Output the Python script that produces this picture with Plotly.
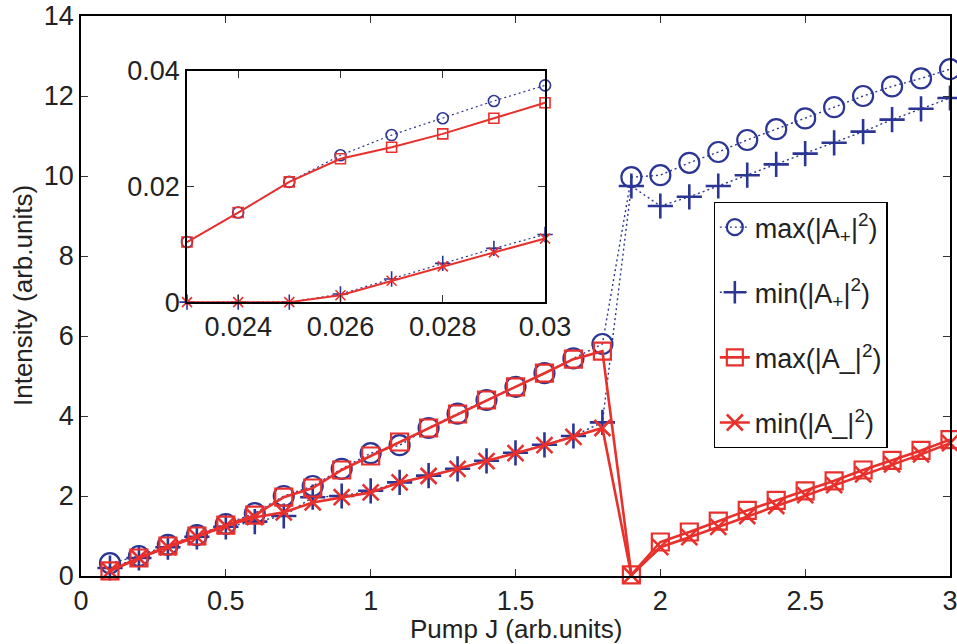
import plotly.graph_objects as go

# Pump values (arb. units)
pump = [0.1, 0.2, 0.3, 0.4, 0.5, 0.6, 0.7, 0.8, 0.9, 1.0,
        1.1, 1.2, 1.3, 1.4, 1.5, 1.6, 1.7, 1.8, 1.9, 2.0,
        2.1, 2.2, 2.3, 2.4, 2.5, 2.6, 2.7, 2.8, 2.9, 3.0]

max_Ap = [0.32, 0.50, 0.78, 1.02, 1.30, 1.57, 2.00, 2.25, 2.68, 3.07,
          3.27, 3.70, 4.06, 4.40, 4.73, 5.07, 5.44, 5.80, 9.97, 10.02,
          10.33, 10.60, 10.90, 11.17, 11.44, 11.72, 12.00, 12.24, 12.44, 12.67]
min_Ap = [0.20, 0.45, 0.72, 0.98, 1.23, 1.36, 1.50, 1.97, 2.00, 2.13,
          2.34, 2.51, 2.68, 2.88, 3.08, 3.28, 3.50, 3.84, 9.75, 9.25,
          9.48, 9.75, 10.02, 10.29, 10.56, 10.83, 11.11, 11.41, 11.68, 11.95]
max_Am = [0.13, 0.45, 0.75, 1.00, 1.27, 1.52, 1.97, 2.20, 2.65, 3.00,
          3.35, 3.70, 4.05, 4.40, 4.73, 5.07, 5.42, 5.62, 0.03, 0.85,
          1.10, 1.37, 1.64, 1.89, 2.13, 2.38, 2.65, 2.89, 3.14, 3.41]
min_Am = [0.13, 0.45, 0.72, 0.98, 1.25, 1.47, 1.59, 1.84, 1.97, 2.09,
          2.34, 2.50, 2.68, 2.87, 3.07, 3.27, 3.48, 3.70, 0.02, 0.72,
          0.97, 1.23, 1.50, 1.75, 2.02, 2.27, 2.54, 2.79, 3.04, 3.32]

# Low-pump detail
pump_in = [0.023, 0.024, 0.025, 0.026, 0.027, 0.028, 0.029, 0.030]
max_Ap_in = [0.0104, 0.0155, 0.0208, 0.0254, 0.0289, 0.0318, 0.0348, 0.0375]
min_Ap_in = [0.0, 0.0, 0.0, 0.0014, 0.0040, 0.0067, 0.0093, 0.0117]
max_Am_in = [0.0104, 0.0155, 0.0208, 0.0248, 0.0268, 0.0291, 0.0318, 0.0345]
min_Am_in = [0.0, 0.0, 0.0, 0.0012, 0.0037, 0.0062, 0.0086, 0.0110]

main_xticks = [0, 0.5, 1, 1.5, 2, 2.5, 3]
main_xlabels = ["0", "0.5", "1", "1.5", "2", "2.5", "3"]
main_yticks = [0, 2, 4, 6, 8, 10, 12, 14]
inset_xticks = [0.024, 0.026, 0.028, 0.03]
inset_xlabels = ["0.024", "0.026", "0.028", "0.03"]
inset_yticks = [0, 0.02, 0.04]
inset_ylabels = ["0", "0.02", "0.04"]

names = ["max(|A<sub>+</sub>|<sup>2</sup>)", "min(|A<sub>+</sub>|<sup>2</sup>)",
         "max(|A_|<sup>2</sup>)", "min(|A_|<sup>2</sup>)"]

BLUE = "#2b3593"
RED = "#e8302c"
FONT = "Liberation Sans, Arial, Helvetica, sans-serif"
FS = 27

styles = [
    dict(color=BLUE, symbol="circle-open", dash="2px,3px", width=1.4, msize=20, mline=2.2),
    dict(color=BLUE, symbol="cross-thin-open", dash="2px,3px", width=1.4, msize=18, mline=2.6),
    dict(color=RED, symbol="square-open", dash="solid", width=2.6, msize=17, mline=2.2),
    dict(color=RED, symbol="x-thin-open", dash="solid", width=2.6, msize=16, mline=2.6),
]
inset_sizes = [11, 11, 10, 10]

fig = go.Figure()

for i, ys in enumerate([max_Ap, min_Ap, max_Am, min_Am]):
    s = styles[i]
    fig.add_trace(go.Scatter(
        x=pump, y=ys, mode="lines+markers", name=names[i],
        legendgroup=f"g{i}",
        line=dict(color=s["color"], dash=s["dash"], width=s["width"]),
        marker=dict(symbol=s["symbol"], size=s["msize"], color=s["color"],
                    line=dict(color=s["color"], width=s["mline"])),
        cliponaxis=False, xaxis="x", yaxis="y",
    ))

for i, ys in enumerate([max_Ap_in, min_Ap_in, max_Am_in, min_Am_in]):
    s = styles[i]
    fig.add_trace(go.Scatter(
        x=pump_in, y=ys, mode="lines+markers", showlegend=False,
        line=dict(color=s["color"], dash=s["dash"], width=1.2 if i < 2 else 2.0),
        marker=dict(symbol=s["symbol"], size=inset_sizes[i], color=s["color"],
                    line=dict(color=s["color"], width=1.6)),
        cliponaxis=False, xaxis="x2", yaxis="y2",
    ))

axis_common = dict(showline=True, linecolor="black", linewidth=1.5, mirror="ticks",
                   ticks="inside", ticklen=7, tickwidth=1.2, tickcolor="#333",
                   showgrid=False, zeroline=False, automargin=False,
                   ticklabeloverflow="allow",
                   tickfont=dict(family=FONT, size=FS, color="#222"))

fig.update_layout(
    width=957, height=644,
    margin=dict(l=81, r=7, t=16, b=68),
    paper_bgcolor="white", plot_bgcolor="white",
    font=dict(family=FONT, size=FS, color="#222"),
    xaxis=dict(range=[0, 3], tickvals=main_xticks, ticktext=main_xlabels,
               domain=[0, 1], anchor="y", **axis_common),
    yaxis=dict(range=[0, 14], tickvals=main_yticks, domain=[0, 1], anchor="x",
               **axis_common),
    xaxis2=dict(range=[0.023, 0.03], tickvals=inset_xticks, ticktext=inset_xlabels,
                domain=[0.122, 0.534], anchor="y2", **axis_common),
    yaxis2=dict(range=[0, 0.04], tickvals=inset_yticks, ticktext=inset_ylabels,
                domain=[0.489, 0.902], anchor="x2", **axis_common),
    legend=dict(x=0.728, y=0.668, xanchor="left", yanchor="top",
                bgcolor="white", bordercolor="black", borderwidth=1.2,
                font=dict(family=FONT, size=FS, color="#222"),
                tracegroupgap=27),
    showlegend=True,
    annotations=[
        dict(text="Pump J (arb.units)", xref="paper", yref="paper",
             x=0.5, y=0, xanchor="center", yanchor="middle", yshift=-53,
             showarrow=False, font=dict(family=FONT, size=26, color="#222")),
        dict(text="Intensity (arb.units)", xref="paper", yref="paper",
             x=0, y=0.5, xanchor="center", yanchor="middle", xshift=-58,
             textangle=-90, showarrow=False,
             font=dict(family=FONT, size=26, color="#222")),
    ],
)

fig.write_html("out.html")
